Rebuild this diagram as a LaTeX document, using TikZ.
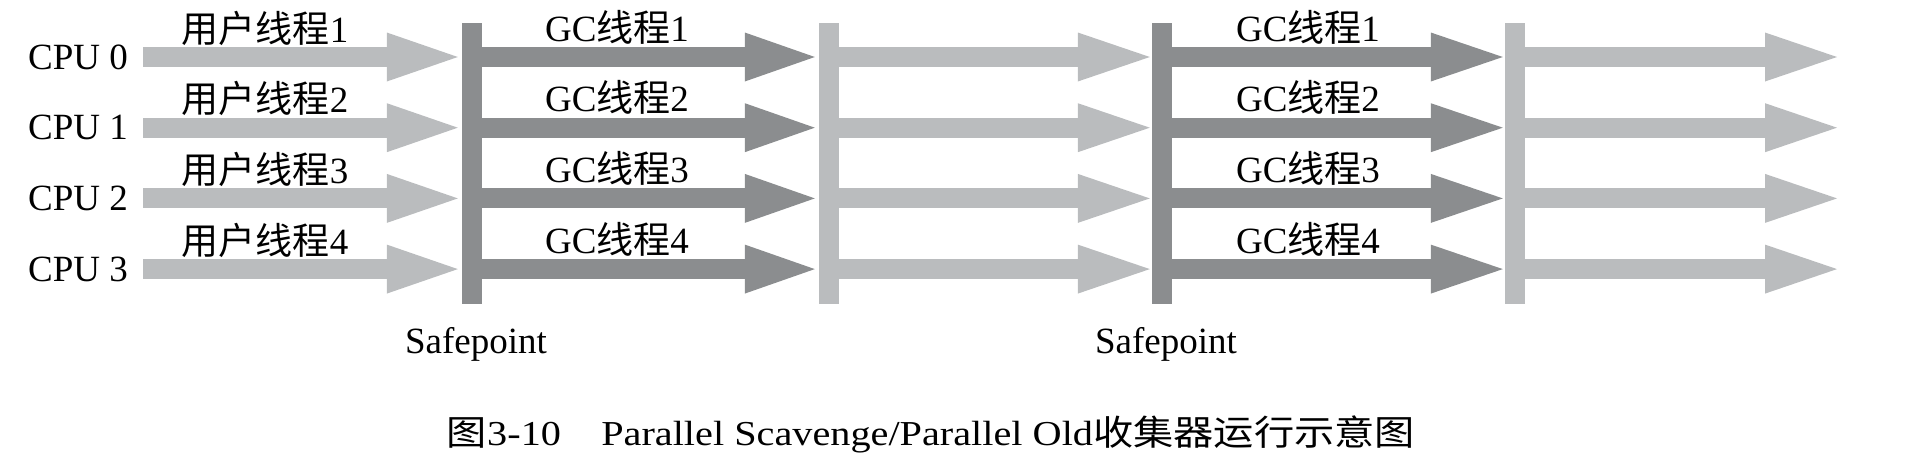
\documentclass[tikz,border=0pt]{standalone}
\usepackage{fontspec}
\usepackage{graphicx}
\setmainfont{Liberation Serif}
\newfontfamily\cjk{Noto Sans CJK SC}
\usetikzlibrary{arrows.meta}

\definecolor{grisfonce}{RGB}{139,141,143}
\definecolor{grisclair}{RGB}{186,188,190}

\begin{document}
\begin{tikzpicture}[x=1pt,y=-1pt,
    lbl/.style={inner sep=0pt,font=\fontsize{37}{40}\selectfont},
    darkbar/.style={fill=grisfonce,inner sep=0pt,minimum width=20pt,minimum height=281pt},
    lightbar/.style={fill=grisclair,inner sep=0pt,minimum width=20pt,minimum height=281pt},
    flow/.style={line width=20pt,-{Triangle[length=#1,width=49pt,line width=0pt]}}]

\useasboundingbox (0,0) rectangle (1915,463);

% Lignes des CPU
\foreach \i in {0,...,3}
{
    \coordinate (r\i) at (0,{57+70.7*\i});
    \node[lbl,anchor=east] (cpu\i) at (128,{57+70.7*\i}) {CPU \i};
}

% Barres (safepoints et fins)
\node[darkbar] (sp1) at (472,163.5) {};
\node[lightbar] (fin1) at (829,163.5) {};
\node[darkbar] (sp2) at (1162,163.5) {};
\node[lightbar] (fin2) at (1515,163.5) {};

\coordinate (debut) at (143,163.5);
\coordinate (bout) at (1837,163.5);

% Fleches
\foreach \i in {0,...,3}
{
    \draw[flow=71pt,draw=grisclair,shorten >=4pt]
    (debut |- r\i)
    --
    (sp1.west |- r\i);

    \draw[flow=70pt,draw=grisfonce,shorten >=4pt]
    (sp1.east |- r\i)
    --
    (fin1.west |- r\i);

    \draw[flow=72pt,draw=grisclair,shorten >=2pt]
    (fin1.east |- r\i)
    --
    (sp2.west |- r\i);

    \draw[flow=72pt,draw=grisfonce,shorten >=2pt]
    (sp2.east |- r\i)
    --
    (fin2.west |- r\i);

    \draw[flow=72pt,draw=grisclair]
    (fin2.east |- r\i)
    --
    (bout |- r\i);
}

% Etiquettes des threads
\foreach \i/\j in {0/1,1/2,2/3,3/4}
{
    \node[lbl] (user\j) at (265,{28+70.7*\i}) {{\cjk 用户线程}\j};
    \node[lbl] (gca\j) at (617,{27+70.7*\i}) {GC{\cjk 线程}\j};
    \node[lbl] (gcb\j) at (1308,{27+70.7*\i}) {GC{\cjk 线程}\j};
}

% Safepoints
\node[lbl,anchor=base] (spa) at (476,353) {Safepoint};
\node[lbl,anchor=base] (spb) at (1166,353) {Safepoint};

% Legende
\node[inner sep=0pt,anchor=base] (titre) at (931,445)
{\scalebox{1.15}[1]{\fontsize{35}{40}\selectfont{\cjk 图}3-10\quad Parallel Scavenge/Parallel Old{\cjk 收集器运行示意图}}};

\end{tikzpicture}
\end{document}
